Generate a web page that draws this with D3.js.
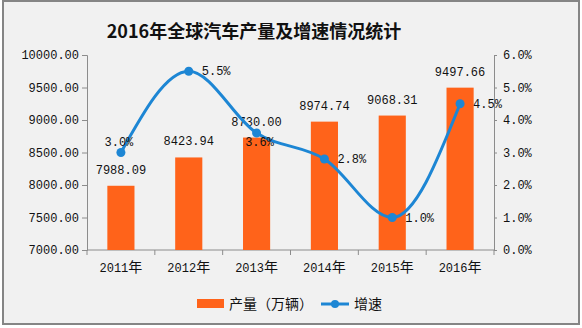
<!DOCTYPE html>
<html>
<head>
<meta charset="utf-8">
<script src="https://cdn.jsdelivr.net/npm/d3@7/dist/d3.min.js"></script>
<style>
  html, body { margin: 0; padding: 0; background: #ffffff; }
  svg { display: block; }
  .num { font-family: "Liberation Mono", "DejaVu Sans Mono", monospace; font-size: 12px; fill: #111; }
  .cjk { font-family: "Noto Sans CJK SC", sans-serif; fill: #111; }
</style>
</head>
<body>
<svg id="chart" width="582" height="328"></svg>
<script>
// Global vehicle output (10k units) and year-on-year growth (%)
const categories = ["2011年", "2012年", "2013年", "2014年", "2015年", "2016年"];
const output = [7988.09, 8423.94, 8730.00, 8974.74, 9068.31, 9497.66];
const growth = [3.0, 5.5, 3.6, 2.8, 1.0, 4.5];
const leftTicks = [7000, 7500, 8000, 8500, 9000, 9500, 10000];
const rightTicks = [0, 1, 2, 3, 4, 5, 6];
const seriesNames = ["产量（万辆）", "增速"];
const title = "2016年全球汽车产量及增速情况统计";

const BAR = "#ff631a";
const LINE = "#1d86d4";
const AXIS = "#8c8c8c";

const svg = d3.select("#chart");

// panel background and frame
svg.append("rect").attr("x", 3).attr("y", 1).attr("width", 576).attr("height", 323)
  .attr("fill", "#f1f1f1").attr("stroke", "#858585").attr("stroke-width", 2);

svg.append("text").attr("class", "cjk")
  .attr("x", 254).attr("y", 38).attr("text-anchor", "middle")
  .attr("font-size", 18).attr("font-weight", "bold").text(title);

const x = d3.scaleBand().domain(categories).range([87, 494]);
const yL = d3.scaleLinear().domain([7000, 10000]).range([250, 55]);
const yR = d3.scaleLinear().domain([0, 6]).range([250, 55]);
const cx = c => x(c) + x.bandwidth() / 2;
const barW = x.bandwidth() * 0.4;

// text with CJK runs set slightly larger than the half-width digits
function mixedText(sel, str) {
  const runs = str.match(/[\u3000-\u9fff\uff00-\uffef]+|[^\u3000-\u9fff\uff00-\uffef]+/g) || [];
  runs.forEach(r => {
    const isCjk = /[\u3000-\u9fff\uff00-\uffef]/.test(r);
    sel.append("tspan")
      .attr("font-family", isCjk ? "'Noto Sans CJK SC', sans-serif" : "'Liberation Mono', monospace")
      .attr("font-size", isCjk ? 14 : 12)
      .text(r);
  });
}

// left axis
const gL = svg.append("g").attr("transform", "translate(87,0)")
  .call(d3.axisLeft(yL).tickValues(leftTicks).tickSize(5).tickPadding(3).tickFormat(d3.format(".2f")));
// right axis
const gR = svg.append("g").attr("transform", "translate(494,0)")
  .call(d3.axisRight(yR).tickValues(rightTicks).tickSize(3).tickPadding(6).tickFormat(d => d.toFixed(1) + "%"));
[gL, gR].forEach(g => {
  g.select(".domain").attr("stroke", AXIS);
  g.selectAll(".tick line").attr("stroke", AXIS);
  g.selectAll(".tick text").attr("class", "num").attr("font-family", null).attr("font-size", null);
});

// bottom axis: line with ticks on the band edges
const gB = svg.append("g");
gB.append("line").attr("x1", 87).attr("x2", 494).attr("y1", 250).attr("y2", 250).attr("stroke", AXIS);
const edges = categories.map(c => x(c)).concat([x(categories[categories.length - 1]) + x.bandwidth()]);
gB.selectAll("line.edge").data(edges).join("line").attr("class", "edge")
  .attr("x1", d => d).attr("x2", d => d).attr("y1", 250).attr("y2", 255).attr("stroke", AXIS);
gB.selectAll("text").data(categories).join("text")
  .attr("x", cx).attr("y", 272).attr("text-anchor", "middle").attr("fill", "#111")
  .each(function (d) { mixedText(d3.select(this), d); });

// bars
svg.append("g").selectAll("rect").data(categories).join("rect")
  .attr("x", c => cx(c) - barW / 2).attr("width", barW)
  .attr("y", (c, i) => yL(output[i])).attr("height", (c, i) => yL(7000) - yL(output[i]))
  .attr("fill", BAR);

svg.append("g").selectAll("text").data(categories).join("text").attr("class", "num")
  .attr("x", cx).attr("y", (c, i) => yL(output[i]) - 12).attr("text-anchor", "middle")
  .text((c, i) => output[i].toFixed(2));

// growth line
const line = d3.line().x((d, i) => cx(categories[i])).y(d => yR(d)).curve(d3.curveMonotoneX);
svg.append("path").datum(growth).attr("d", line)
  .attr("fill", "none").attr("stroke", LINE).attr("stroke-width", 3);
svg.append("g").selectAll("circle").data(growth).join("circle")
  .attr("cx", (d, i) => cx(categories[i])).attr("cy", d => yR(d)).attr("r", 4.5).attr("fill", LINE);

// growth labels: placement per point
const placement = ["top", "right", "bottom", "right", "right", "right"];
svg.append("g").selectAll("text").data(growth).join("text").attr("class", "num")
  .each(function (d, i) {
    const px = cx(categories[i]), py = yR(d), p = placement[i];
    const t = d3.select(this).text(d.toFixed(1) + "%");
    if (p === "top") t.attr("x", px - 2).attr("y", py - 7).attr("text-anchor", "middle");
    else if (p === "bottom") t.attr("x", px + 3).attr("y", py + 13).attr("text-anchor", "middle");
    else t.attr("x", px + 13).attr("y", py + 4).attr("text-anchor", "start");
  });

// legend
const lg = svg.append("g");
lg.append("rect").attr("x", 197).attr("y", 299).attr("width", 27).attr("height", 9).attr("fill", BAR);
lg.append("text").attr("class", "cjk").attr("x", 229).attr("y", 309).attr("font-size", 14).text(seriesNames[0]);
lg.append("line").attr("x1", 321).attr("x2", 349).attr("y1", 304).attr("y2", 304)
  .attr("stroke", LINE).attr("stroke-width", 3);
lg.append("circle").attr("cx", 335).attr("cy", 304).attr("r", 4).attr("fill", LINE);
lg.append("text").attr("class", "cjk").attr("x", 354).attr("y", 309).attr("font-size", 14).text(seriesNames[1]);
</script>
</body>
</html>
